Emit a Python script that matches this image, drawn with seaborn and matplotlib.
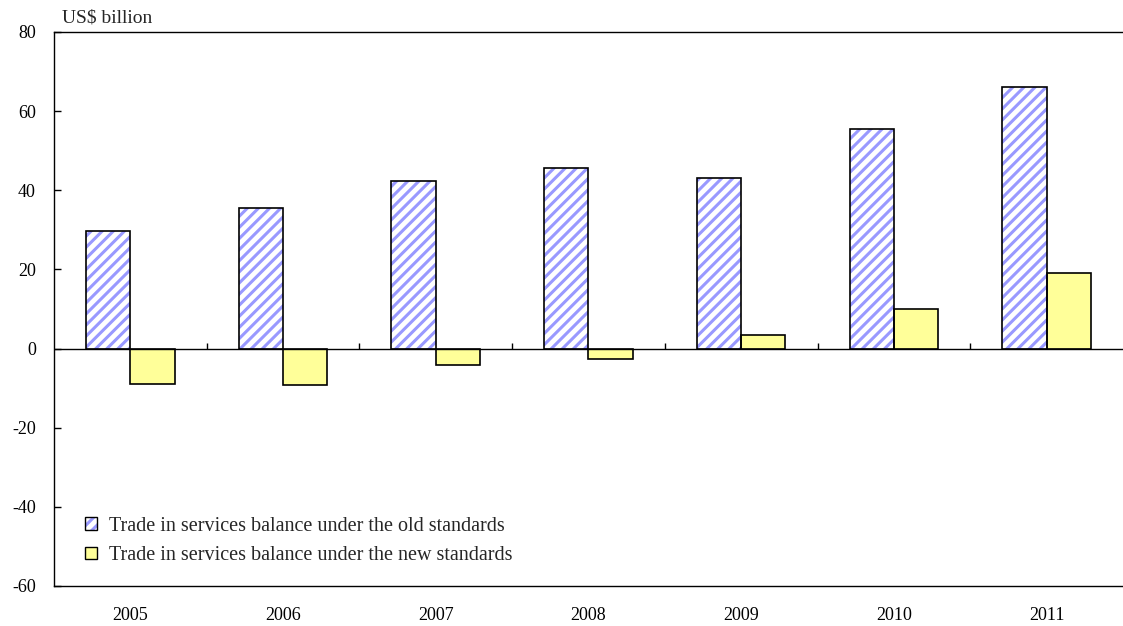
import matplotlib
matplotlib.use("Agg")
import matplotlib.pyplot as plt
import seaborn as sns
import pandas as pd
from matplotlib.patches import Rectangle, Patch

years = ["2005", "2006", "2007", "2008", "2009", "2010", "2011"]
old_standards = [29.8, 35.6, 42.3, 45.5, 43.0, 55.4, 66.1]
new_standards = [-8.9, -9.2, -4.2, -2.6, 3.4, 10.0, 19.0]
series_names = ["Trade in services balance under the old standards",
                "Trade in services balance under the new standards"]
y_ticks = [-60, -40, -20, 0, 20, 40, 60, 80]

sns.set_theme(style="white")
plt.rcParams['font.family'] = ['Liberation Serif', 'DejaVu Serif']
plt.rcParams['hatch.linewidth'] = 2.2

df = pd.DataFrame({
    "year": years * 2,
    "value": old_standards + new_standards,
    "series": [series_names[0]] * len(years) + [series_names[1]] * len(years),
})

fig = plt.figure(figsize=(11.23, 6.26), dpi=100)
ax = fig.add_axes([0.048, 0.064, 0.952, 0.885])

sns.barplot(data=df, x="year", y="value", hue="series", order=years,
            hue_order=series_names, palette=["white", "#FFFF99"], saturation=1,
            width=0.58, edgecolor="black", linewidth=1.2, ax=ax,
            legend=False, zorder=2)

old_col = "#9999FF"
n = len(years)
for i, p in enumerate(ax.patches[:n]):
    p.set_facecolor("white")
    p.set_edgecolor(old_col)
    p.set_hatch("///")
    p.set_linewidth(0)
    ax.add_patch(Rectangle(p.get_xy(), p.get_width(), p.get_height(),
                           fill=False, edgecolor="black", linewidth=1.2, zorder=3))

ax.set_ylim(-60, 80)
ax.set_xlim(-0.5, n - 0.5)
ax.set_yticks(y_ticks)
ax.set_yticklabels([str(t) for t in y_ticks])
ax.set_xlabel("")
ax.set_ylabel("")
ax.axhline(0, color="black", linewidth=1.0, zorder=4)
ax.vlines([i + 0.5 for i in range(n - 1)], 0, 1.3, color="black", linewidth=1.0, zorder=4)

for s in ["left", "top", "bottom"]:
    ax.spines[s].set_visible(True)
    ax.spines[s].set_color("black")
    ax.spines[s].set_linewidth(1.0)
ax.spines["right"].set_visible(False)

ax.tick_params(axis="y", direction="in", length=5, width=1, left=True, pad=13,
               labelsize=13, colors="black")
ax.tick_params(axis="x", bottom=False, labelsize=13, pad=9, colors="black")

fig.text(0.055, 0.972, "US$ billion", fontsize=14, ha="left", va="center")

old_handle = (Patch(facecolor="white", edgecolor=old_col, hatch="///", linewidth=0),
              Patch(facecolor="none", edgecolor="black", linewidth=1.0))
new_handle = Patch(facecolor="#FFFF99", edgecolor="black", linewidth=1.0)
leg = ax.legend([old_handle, new_handle], series_names, loc="lower left",
                bbox_to_anchor=(0.012, 0.005),
                frameon=False, fontsize=14.5, handlelength=0.6, handleheight=0.6,
                handletextpad=0.6, labelspacing=0.5)

fig.savefig("out.png", dpi=100, facecolor="white")
